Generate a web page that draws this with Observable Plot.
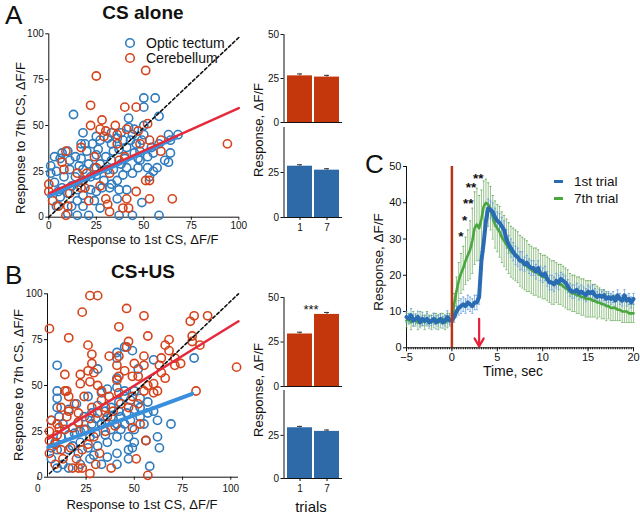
<!DOCTYPE html>
<html><head><meta charset="utf-8">
<script src="https://cdn.jsdelivr.net/npm/d3@7"></script>
<script src="https://cdn.jsdelivr.net/npm/@observablehq/plot@0.6"></script>
<style>
body{margin:0;background:#fff;}
#c{position:relative;width:640px;height:515px;overflow:hidden;background:#fff;}
#c svg{position:absolute;left:0;top:0;}
</style></head><body><div id="c"></div>
<script>
// ---------- DATA ----------
// Panel A (CS alone) scatter: response to 1st CS (x) vs 7th CS (y)
const aTectumX = [50,56,50,58,13,42,42,45,50,68, 63,50,64,63,55,53,49,58,44,37, 21,15,10,41,36,44,47,48,52,1, 1,3,4,7,11,11,14,17,20,23, 26,27,31,33,34,37,39,41,43,46, 45,48,54,55,57,52,41,38,33,30, 27,24,21,18,16,14,18,22,25,29, 33,36,39,34,31,12,15,18,22,25, 28,24,15,12,18,27,10,7,6,8, 33,18,38,58,64,32,37,10,6,3, 17,19,25,36,44,49,25,40,47,61, 4,5];
const aTectumY = [65,65,60,55,56,54,49,48,50,45, 45,45,35,30,25,22,8,1,1,1, 1,1,2,15,10,24,27,31,33,28, 24,19,25,35,26,31,33,40,36,40, 37,42,43,40,36,37,42,38,42,40, 35,36,38,35,27,27,27,29,31,33, 29,27,29,26,28,22,20,22,23,20, 18,20,23,26,26,17,15,12,15,14, 16,9,9,6,6,5,13,16,11,22, 46,46,46,40,42,16,15,36,32,33, 32,40,44,43,45,42,34,32,32,31, 6,14];
const aCerebX = [25,51,22,40,46,22,35,52,28,27, 30,36,29,41,53,59,47,94,9,17, 7,8,0,0,2,5,21,30,31,32, 39,42,41,46,53,65,51,53,40,37, 24,20,15,17,11,10,9,32,27,59, 48,36,25,19];
const aCerebY = [77,80,61,60,60,50,50,51,53,48, 47,45,44,48,42,42,47,40,36,38, 30,26,18,14,9,6,9,10,7,3, 5,5,10,14,10,10,20,20,33,31, 33,24,24,16,13,6,1,24,17,36, 40,40,27,16];
// Panel B (CS+US) scatter
const bTectumX = [10,41,45,49,41,60,81,41,52,31, 10,10,10,7,11,16,20,26,33,36, 41,45,50,53,53,57,60,62,69,62, 63,56,50,49,47,47,41,58,47,50, 55,57,53,48,46,43,41,38,35,33, 30,28,25,22,19,16,12,9,7,10, 7,10,16,22,27,21,16,26,31,36, 41,35,30,27,22,18,38,43,45,42, 38,35,31,28,24,21,18,13,33,41, 36,29,13,48,50,45,42];
const bTectumY = [61,68,71,69,65,64,65,54,59,59, 47,43,38,31,33,37,40,44,46,48, 49,47,47,43,38,41,36,31,29,22, 16,20,19,16,15,10,13,6,22,26, 29,35,33,31,35,33,29,33,31,29, 32,29,26,25,24,23,22,19,16,15, 10,5,5,7,10,13,15,16,17,19, 22,23,24,22,19,17,26,26,29,36, 38,36,39,35,33,30,27,29,7,7, 11,12,7,42,37,44,41];
const bCerebX = [27,31,23,46,55,42,6,16,26,57, 79,81,88,84,80,80,68,66,47,46, 103,82,71,71,64,63,64,66,55,55, 50,42,41,37,42,45,49,52,55,57, 62,60,41,28,28,29,26,22,14,15, 14,16,22,27,31,33,37,42,49,52, 24,19,12,16,10,7,6,6,6,10, 14,18,21,27,31,35,39,43,47,53, 56,49,51,57,27,30,21,18,23,38, 32,23,17,12,9,13,20,26,29,35, 40,9,11,24,36,28,33,21,15,74, 68,60];
const bCerebY = [99,99,90,92,88,82,81,76,72,77, 85,88,88,72,77,74,75,72,74,71, 60,47,65,61,65,61,57,54,66,61, 62,66,61,66,55,58,55,55,47,50, 47,51,53,67,62,57,58,56,56,47, 47,44,51,52,50,47,44,46,44,40, 44,40,38,36,29,31,25,20,13,23, 26,27,30,32,35,38,36,40,38,29, 20,27,10,1,2,7,5,5,5,5, 13,15,16,15,7,10,10,18,22,25, 28,18,27,26,33,38,42,35,33,62, 69,46];
// Regression lines and identity lines (end points)
const aFitTectumX = [0,67], aFitTectumY = [11.5,43.5];
const aFitCerebX = [0,100], aFitCerebY = [13,59.5];
const aDiagX = [0,100], aDiagY = [0,98];
const bFitTectumX = [5.5,80], bFitTectumY = [16.5,45.5];
const bFitCerebX = [5.5,104], bFitCerebY = [21,85];
const bDiagX = [6,104], bDiagY = [2,100];
const scatterTicks = [0,25,50,75,100];

// Bar charts: mean response on trial 1 and 7
const trials = ["1","7"];
const aCerebMean = [26.5,25.8], aCerebErr = [1.1,1.0];
const aTectumMean = [28.5,26.3], aTectumErr = [0.8,0.8];
const bCerebMean = [29.5,40.5], bCerebErr = [1.0,1.1];
const bTectumMean = [29.4,27.3], bTectumErr = [0.8,0.8];

// Panel C: time course (s), sampled every 0.25 s from -5 to 20
const time = d3.range(-5, 20.001, 0.25);
const trial1 = [8.5,8,9,7.5,8,8.5,7,8,7.5,8,7,7.5,8,7,7.5,8,7,7.5,8.5,7.5, 7.5,
  8.5,10,11,11.5,12,11.5,12.5,12,11.5,12.5,12.5,14, 24,29,35,
  38.5,38,37.5,36, 35,34.5,33.5,32.5, 30,28.5,27.5,26.5, 25.5,25,24,24, 23,23.5,22.5,22, 22,21,22,20.5, 20,20.5,19,18, 18,17.5,18.5,18, 19,18.5,18,17, 16,15.5,15.5,16, 15,15.5,15,14.5, 15.5,15,15.5,14.5, 14,14.5,14,14.5, 13.5,14,13.5,14, 13,14.5,13.5,13, 14.5,13,13.5,12.5, 13.5];
const trial1Err = [1.5,1.2,1.8,1.5,1.4,1.6,1.5,1.8,1.3,1.5,1.6,1.4,1.5,1.8,1.5,1.3,1.6,1.5,1.7,1.5, 1.5,
  1.5,1.5,2,2,2,2,2,2,2,2,2,2, 2.5,2.5,2.5,
  2.5,2.5,2.5,2.5, 2.5,2.5,2.5,2.5, 2.5,2.5,2.5,2.5, 2.5,2.5,2.5,2.5, 2,2,2,2, 2,2,2,2, 2,2,2,2, 2,2,2,2, 1.8,1.8,1.8,1.8, 1.8,1.8,1.8,1.8, 1.8,1.8,1.8,1.8, 1.8,1.8,1.8,1.8, 1.5,1.5,1.5,1.5, 1.5,1.5,1.5,1.5, 1.5,1.5,1.5,1.5, 1.5,1.5,1.5,1.5, 1.5];
const trial7 = [7.5,8,7,8,7.5,7,8,7.5,7,8,7.5,7,7.5,8,7,7.5,8,7,7.5,8, 8,
  12,15.5,18.5,20.5,22,24,25.5,27,29.5,33,34,33, 35.5,39,40,
  39.5,38.5,36,34, 33,32,30.5,29.5, 28.5,27.5,26.5,26, 25.5,25,24,23.5, 23,22.5,22,21.5, 21,21,20.5,20, 19.5,19.5,19,18.5, 18,18,18,17.5, 17.5,17,16.5,16, 15.5,15,15,14.5, 14.5,14,14,13.5, 13.5,13.5,13,13, 12.5,12.5,12,12, 11.5,11.5,11,11, 11,10.5,10.5,10, 10,10,9.5,9.5, 9.5];
const trial7Err = [2,1.5,2,2,1.5,2,2,1.5,2,2,1.5,2,2,1.5,2,2,1.5,2,2,1.5, 2,
  3,4,5,5.5,6,6.5,7,8,9,10,10,9, 8,7,6.5,
  6,6,6,6.5, 6.5,7,7,7, 7,7,7,7, 7,7,7,7, 7,7,6.5,6.5, 6.5,6.5,6.5,6, 6,6,6,6, 6,6,5.5,5.5, 5.5,5.5,5.5,5.5, 5,5,5,5, 5,5,5,5, 5,5,4.5,4.5, 4.5,4,4,4, 4,3.5,3.5,3.5, 3.5,3,3,3, 3,3,2.5,2.5, 2.5];
const starTime = [1.0,1.4,1.8,2.1,2.9];
const starLevel = [31.5,36,40.5,45,47.5];
const starText = ["*","*","**","**","**"];
const csOnset = 0, usOnset = 3;
const cTimeTicks = [-5,0,5,10,15,20];
const cRespTicks = [0,10,20,30,40,50];

// ---------- STYLE ----------
const FONT = "'Liberation Sans', Arial, Helvetica, sans-serif";
const SC_BLUE = "#2f7bbd", SC_RED = "#d5441c";
const FIT_BLUE = "#3a8fdc", FIT_RED = "#e62a3c";
const BAR_RED = "#c4370c", BAR_BLUE = "#2e6aa8";
const C_BLUE = "#2a6cb3", C_GREEN = "#4aa63e";
const W = 640, H = 515;
const root = d3.select("#c");
function frame(l, r, t, b) { return {width: W, height: H, marginLeft: l, marginRight: W - r, marginTop: t, marginBottom: H - b}; }
const baseStyle = {background: "none", overflow: "visible", fontFamily: FONT, fontSize: "10px", color: "#111"};
const pairs = (xs, ys) => xs.map((x, i) => ({x, y: ys[i]}));

function scatter(fr, xDomain, xPad, tx, ty, cx, cy, ftx, fty, fcx, fcy, dx, dy) {
  return Plot.plot({
    ...frame(...fr), style: baseStyle,
    x: {domain: xDomain}, y: {domain: [0, 100]},
    marks: [
      Plot.ruleX([xDomain[0]], {y1: 0, y2: 100, stroke: "#111", strokeWidth: 1}),
      Plot.ruleY([0], {x1: xDomain[0], x2: xDomain[1], stroke: "#111", strokeWidth: 1}),
      Plot.axisX({ticks: scatterTicks, tickSize: 3, tickPadding: xPad, label: null}),
      Plot.axisY({ticks: scatterTicks, tickSize: 3, tickPadding: 2, label: null}),
      Plot.dot(pairs(tx, ty), {x: "x", y: "y", r: 4.1, stroke: SC_BLUE, strokeWidth: 1.6}),
      Plot.dot(pairs(cx, cy), {x: "x", y: "y", r: 4.1, stroke: SC_RED, strokeWidth: 1.6}),
      Plot.line(pairs(dx, dy), {x: "x", y: "y", stroke: "#111", strokeWidth: 1.6, strokeDasharray: "3,2.5"}),
      Plot.line(pairs(ftx, fty), {x: "x", y: "y", stroke: FIT_BLUE, strokeWidth: 4}),
      Plot.line(pairs(fcx, fcy), {x: "x", y: "y", stroke: FIT_RED, strokeWidth: 2.5})
    ]
  });
}

function bars(fr, means, errs, fill, ticks, yDomain, showX) {
  const data = trials.map((t, i) => ({t, v: means[i], e: errs[i]}));
  const marks = [
    Plot.barY(data, {x: "t", y: "v", fill}),
    Plot.ruleX(data, {x: "t", y1: d => d.v, y2: d => d.v + d.e, stroke: "#333", strokeWidth: 1}),
    Plot.tickY(data, {x: "t", y: d => d.v + d.e, stroke: "#333", strokeWidth: 1, insetLeft: 10, insetRight: 10}),
    Plot.frame({anchor: "left", stroke: "#111"}),
    Plot.ruleY([0], {stroke: "#111"}),
    Plot.axisY({ticks, tickSize: 3, tickPadding: 2, label: null})
  ];
  if (showX) marks.push(Plot.axisX({tickSize: 3, tickPadding: 3, label: null}));
  return Plot.plot({
    ...frame(...fr), style: baseStyle,
    x: {type: "band", domain: trials, paddingInner: 0.08, paddingOuter: 0.1, axis: showX ? undefined : null},
    y: {domain: yDomain},
    marks
  });
}

const plots = [
  scatter([48.3, 238.3, 33.3, 216.7], [0, 100], 2, aTectumX, aTectumY, aCerebX, aCerebY, aFitTectumX, aFitTectumY, aFitCerebX, aFitCerebY, aDiagX, aDiagY),
  scatter([47, 238, 293.3, 476.7], [5, 104], 5, bTectumX, bTectumY, bCerebX, bCerebY, bFitTectumX, bFitTectumY, bFitCerebX, bFitCerebY, bDiagX, bDiagY),
  bars([283.5, 342, 34, 122], aCerebMean, aCerebErr, BAR_RED, [0, 25, 50], [0, 50], false),
  bars([283.5, 342, 127, 217], aTectumMean, aTectumErr, BAR_BLUE, [0, 25], [0, 50], true),
  bars([283.5, 342, 297, 386], bCerebMean, bCerebErr, BAR_RED, [0, 25, 50], [0, 50], false),
  bars([283.5, 342, 390, 478], bTectumMean, bTectumErr, BAR_BLUE, [0, 25], [0, 51], true)
];

// Panel C
const s1 = time.map((t, i) => ({t, v: trial1[i], e: trial1Err[i]}));
const s7 = time.map((t, i) => ({t, v: trial7[i], e: trial7Err[i]}));
function caps(data, color, sign) {
  return Plot.link(data, {x1: d => d.t - 0.12, x2: d => d.t + 0.12, y1: d => d.v + sign * d.e, y2: d => d.v + sign * d.e, stroke: color, strokeWidth: 0.8});
}
const stars = starTime.map((t, i) => ({t, y: starLevel[i], s: starText[i]}));
plots.push(Plot.plot({
  ...frame(406, 633, 166, 347.3), style: {...baseStyle, fontSize: "11px"},
  x: {domain: [-5, 20]}, y: {domain: [0, 50]},
  marks: [
    Plot.ruleX([-5], {y1: 0, y2: 50, stroke: "#111"}),
    Plot.ruleY([0], {stroke: "#111"}),
    Plot.axisX({ticks: time, tickSize: 2, tickFormat: () => "", label: null}),
    Plot.axisX({ticks: cTimeTicks, tickSize: 4, tickPadding: 1, label: null}),
    Plot.axisY({ticks: cRespTicks, tickSize: 3, tickPadding: 2, label: null}),
    Plot.ruleX(s7, {x: "t", y1: d => d.v - d.e, y2: d => d.v + d.e, stroke: "#6aa95a", strokeWidth: 0.7}),
    caps(s7, "#6aa95a", 1), caps(s7, "#6aa95a", -1),
    Plot.ruleX(s1, {x: "t", y1: d => d.v - d.e, y2: d => d.v + d.e, stroke: "#5f9bd4", strokeWidth: 0.7}),
    caps(s1, "#5f9bd4", 1), caps(s1, "#5f9bd4", -1),
    Plot.line(s7, {x: "t", y: "v", stroke: C_GREEN, strokeWidth: 2.6}),
    Plot.line(s1, {x: "t", y: "v", stroke: C_BLUE, strokeWidth: 4}),
    Plot.ruleX([csOnset], {y1: 0, y2: 50, stroke: "#bb3418", strokeWidth: 2.5}),
    Plot.arrow([usOnset], {x1: d => d, x2: d => d, y1: 8, y2: 0.4, stroke: "#e8213a", strokeWidth: 2.2, headLength: 9}),
    Plot.text(stars, {x: "t", y: "y", text: "s", fontSize: 13.5, fontWeight: "bold", fill: "#111", dy: 4, lineHeight: 0.8})
  ]
}));

plots.forEach(p => root.node().appendChild(p));

// ---------- TEXT / LEGENDS ----------
const ov = root.append("svg").attr("width", W).attr("height", H).style("font-family", FONT);
function txt(s, x, y, size, opts = {}) {
  const t = ov.append("text").attr("x", x).attr("y", y).attr("font-size", size).attr("fill", "#111")
    .attr("text-anchor", opts.anchor || "middle").text(s);
  if (opts.bold) t.attr("font-weight", "bold");
  if (opts.rot) t.attr("transform", `rotate(-90 ${x} ${y})`);
  return t;
}
txt("A", 5, 24, 26, {anchor: "start"});
txt("CS alone", 143, 19, 19, {bold: true});
txt("Response to 7th CS, ΔF/F", 25, 138, 13, {rot: true});
txt("Response to 1st CS, ΔF/F", 143, 244, 13);
txt("B", 5, 284, 26, {anchor: "start"});
txt("CS+US", 143, 278, 19, {bold: true});
txt("Response to 7th CS, ΔF/F", 23, 385, 13, {rot: true});
txt("Response to 1st CS, ΔF/F", 142, 509, 13);
txt("Response, ΔF/F", 263, 130, 13, {rot: true});
txt("Response, ΔF/F", 263, 390, 13, {rot: true});
txt("***", 311, 314, 13);
txt("trials", 311, 512, 15);
txt("C", 365, 173, 26, {anchor: "start"});
txt("Response, ΔF/F", 383, 262, 13.5, {rot: true});
txt("Time, sec", 513, 376, 14);
// legend A
ov.append("circle").attr("cx", 130).attr("cy", 43).attr("r", 4.3).attr("fill", "none").attr("stroke", SC_BLUE).attr("stroke-width", 1.6);
ov.append("circle").attr("cx", 130).attr("cy", 58).attr("r", 4.3).attr("fill", "none").attr("stroke", SC_RED).attr("stroke-width", 1.6);
txt("Optic tectum", 146, 48, 14, {anchor: "start"});
txt("Cerebellum", 146, 63, 14, {anchor: "start"});
// legend C
ov.append("line").attr("x1", 554).attr("x2", 563).attr("y1", 181.5).attr("y2", 181.5).attr("stroke", C_BLUE).attr("stroke-width", 3);
ov.append("line").attr("x1", 554).attr("x2", 563).attr("y1", 198.5).attr("y2", 198.5).attr("stroke", C_GREEN).attr("stroke-width", 3);
txt("1st trial", 574, 186, 13.5, {anchor: "start"});
txt("7th trial", 574, 203, 13.5, {anchor: "start"});
</script></body></html>
